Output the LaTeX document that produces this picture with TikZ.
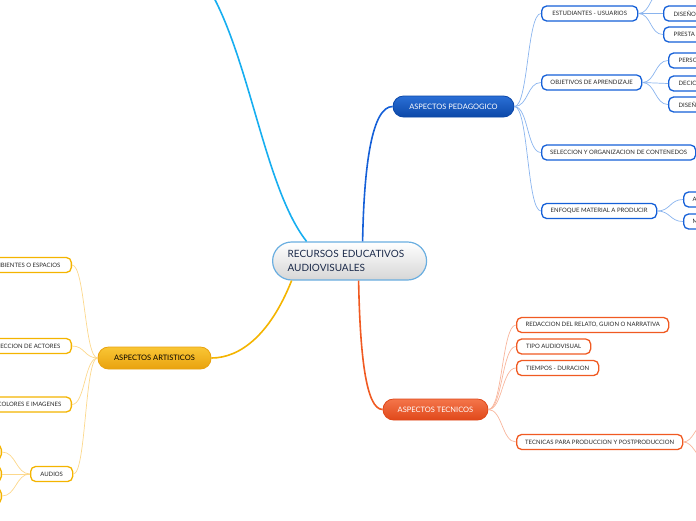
\documentclass[tikz,border=0pt]{standalone}
\usepackage{fontspec}
\setmainfont{Lato}
\definecolor{skyb}{HTML}{17AEF0}
\definecolor{pblue}{HTML}{1560D8}
\definecolor{pbluel}{HTML}{8AB4EE}
\definecolor{pbtop}{HTML}{2A6FD6}
\definecolor{pbbot}{HTML}{0C48A8}
\definecolor{tor}{HTML}{F05A22}
\definecolor{torl}{HTML}{F8B59C}
\definecolor{totop}{HTML}{F4754A}
\definecolor{tobot}{HTML}{E0481A}
\definecolor{ayel}{HTML}{F4B400}
\definecolor{ayell}{HTML}{FCD88C}
\definecolor{aytop}{HTML}{F9C635}
\definecolor{aybot}{HTML}{E9A20E}
\definecolor{cborder}{HTML}{6AAEE0}
\definecolor{ctext}{HTML}{1B2A4A}
\definecolor{btext}{HTML}{2A2A2A}
\begin{document}
\begin{tikzpicture}[x=1pt,y=-1pt,
  childbox/.style={fill=white, line width=1.3pt, rounded corners=5pt, minimum height=15pt,
    inner xsep=3pt, inner ysep=0pt, font=\fontsize{6}{7}\selectfont, text=btext},
  pchild/.style={childbox, draw=pblue},
  tchild/.style={childbox, draw=tor},
  achild/.style={childbox, draw=ayel},
  mainpill/.style={rounded corners=10.5pt, minimum height=21pt, inner sep=0pt,
    font=\fontsize{7.5}{9}\selectfont, line width=0.8pt},
  plink/.style={draw=pbluel, line width=0.7pt},
  tlink/.style={draw=torl, line width=0.7pt},
  alink/.style={draw=ayell, line width=0.7pt},
  mainlink/.style={line width=1.6pt}
]
\useasboundingbox (0,0) rectangle (696,520);
\clip (0,0) rectangle (696,520);

% central node
\node[draw=cborder, line width=1.2pt, rounded corners=19pt, top color=white, bottom color=black!16,
  minimum height=38pt, inner xsep=15pt, inner ysep=0pt, text width=124pt, align=left,
  font=\fontsize{10}{14}\selectfont, text=ctext, anchor=west] (cent) at (272,261)
  {RECURSOS EDUCATIVOS\\AUDIOVISUALES};

% main branches
\node[mainpill, draw=pbbot, top color=pbtop, bottom color=pbbot, text=white, minimum width=121pt] (ped) at (453.5,106.5) {ASPECTOS PEDAGOGICO};
\node[mainpill, draw=tobot, top color=totop, bottom color=tobot, text=white, minimum width=105pt] (tec) at (435.5,409.5) {ASPECTOS TECNICOS};
\node[mainpill, draw=aybot, top color=aytop, bottom color=aybot, text=black, minimum width=113pt, minimum height=22pt] (art) at (154.5,358) {ASPECTOS ARTISTICOS};

\coordinate (offtop) at (200,-25);
\draw[mainlink, skyb] ([xshift=-43pt]cent.north) .. controls (262,185) and (248,40) .. (offtop);
\draw[mainlink, pblue] ([xshift=13pt]cent.north) .. controls (364,165) and (372,106.5) .. (ped.west);
\draw[mainlink, tor] ([xshift=9pt]cent.south) .. controls (360,355) and (366,409.5) .. (tec.west);
\draw[mainlink, ayel] ([xshift=-58pt]cent.south) .. controls (270,335) and (240,358) .. (art.east);

% pedagogico children
\node[pchild, anchor=west, minimum width=96pt] (estud) at (541,13.5) {ESTUDIANTES - USUARIOS};
\node[pchild, anchor=west, minimum width=100pt] (objet) at (541,82.5) {OBJETIVOS DE APRENDIZAJE};
\node[pchild, anchor=west, minimum width=154pt] (selec) at (541,152.5) {SELECCION Y ORGANIZACION DE CONTENEDOS};
\node[pchild, anchor=west, minimum width=115pt] (enfoq) at (541,211) {ENFOQUE MATERIAL A PRODUCIR};
\foreach \n in {estud,objet,selec,enfoq}
  \draw[plink] (ped.east) .. controls +(14,0) and +(-14,0) .. (\n.west);

% grandchildren
\coordinate (estup) at (663,-9);
\node[pchild, anchor=west, inner xsep=10pt, text width=60pt] (dis1) at (663,13.5) {DISEÑO};
\node[pchild, anchor=west, inner xsep=10pt, text width=60pt] (pres) at (663,34.5) {PRESTA};
\foreach \n in {dis1,pres}
  \draw[plink] (estud.east) .. controls +(13,0) and +(-13,0) .. (\n.west);
\draw[plink] (estud.east) .. controls +(13,0) and +(-13,0) .. (estup);

\node[pchild, anchor=west, inner xsep=10pt, text width=60pt] (pers) at (668,60.5) {PERSO};
\node[pchild, anchor=west, inner xsep=10pt, text width=60pt] (deci) at (668,83.5) {DECIC};
\node[pchild, anchor=west, inner xsep=10pt, text width=60pt] (dis2) at (668,104.5) {DISEÑ};
\foreach \n in {pers,deci,dis2}
  \draw[plink] (objet.east) .. controls +(13,0) and +(-13,0) .. (\n.west);

\node[pchild, anchor=west, inner xsep=9pt, text width=60pt] (enfa) at (683,199.5) {A};
\node[pchild, anchor=west, inner xsep=9pt, text width=60pt] (enfm) at (683,221.5) {M};
\foreach \n in {enfa,enfm}
  \draw[plink] (enfoq.east) .. controls +(13,0) and +(-13,0) .. (\n.west);

% tecnicos children
\node[tchild, anchor=west, minimum width=152pt] (redac) at (516,325) {REDACCION DEL RELATO, GUION O NARRATIVA};
\node[tchild, anchor=west, minimum width=74pt] (tipo) at (516,346.5) {TIPO AUDIOVISUAL};
\node[tchild, anchor=west, minimum width=82pt] (tiemp) at (516,368) {TIEMPOS - DURACION};
\node[tchild, anchor=west, minimum width=166pt] (tecn) at (516,442) {TECNICAS PARA PRODUCCION Y POSTPRODUCCION};
\foreach \n in {redac,tipo,tiemp,tecn}
  \draw[tlink] (tec.east) .. controls +(14,0) and +(-14,0) .. (\n.west);
\coordinate (tecoff1) at (704,424);
\coordinate (tecoff2) at (704,458);
\draw[tlink] (tecn.east) .. controls +(10,0) and +(-8,0) .. (tecoff1);
\draw[tlink] (tecn.east) .. controls +(10,0) and +(-8,0) .. (tecoff2);

% artisticos children
\node[achild, anchor=east, inner xsep=11pt] (ambi) at (72,265) {AMBIENTES O ESPACIOS};
\node[achild, anchor=east, inner xsep=11pt] (acto) at (72,346) {SELECCION DE ACTORES};
\node[achild, anchor=east, inner xsep=10pt] (colo) at (72,404.5) {COLORES E IMAGENES};
\node[achild, anchor=west, minimum width=42pt, inner xsep=0pt] (audi) at (30,474) {AUDIOS};
\foreach \n in {ambi,acto,colo,audi}
  \draw[alink] (art.west) .. controls +(-13,0) and +(13,0) .. (\n.east);

\node[achild, anchor=east, minimum width=40pt] (au1) at (2,452) {};
\node[achild, anchor=east, minimum width=40pt] (au2) at (2,474) {};
\node[achild, anchor=east, minimum width=40pt] (au3) at (2,496) {};
\foreach \n in {au1,au2,au3}
  \draw[alink] (audi.west) .. controls +(-14,0) and +(14,0) .. (\n.east);
\end{tikzpicture}
\end{document}
